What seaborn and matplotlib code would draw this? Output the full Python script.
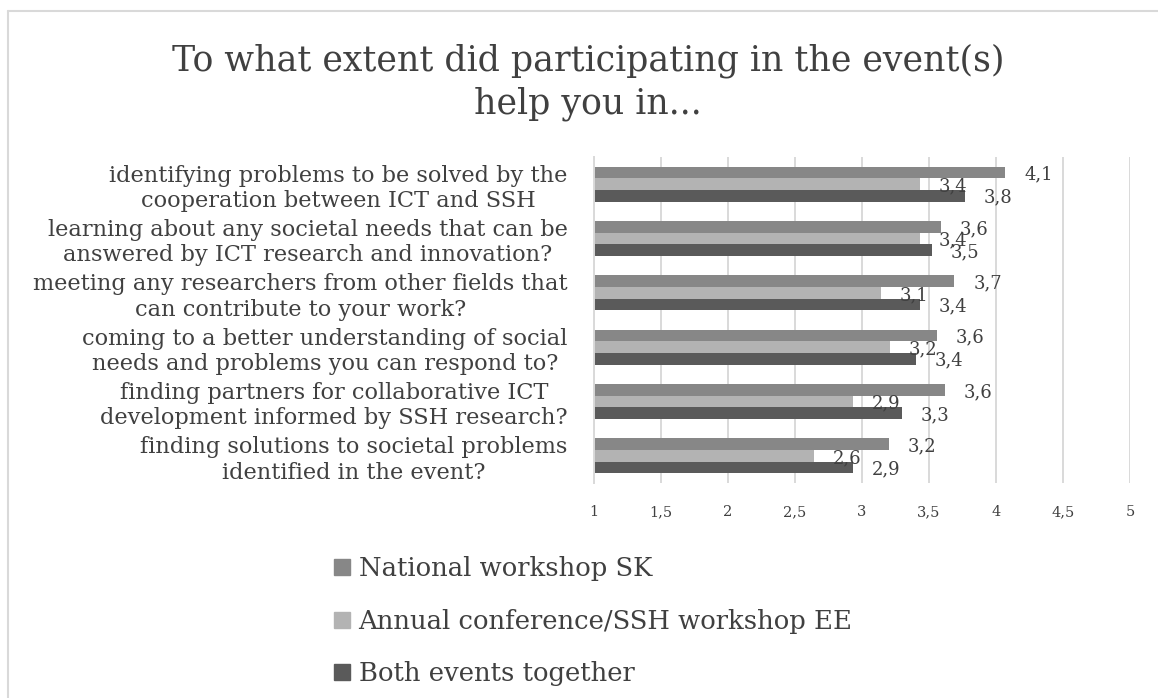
import matplotlib
matplotlib.use("Agg")
import matplotlib.pyplot as plt
from matplotlib.lines import Line2D
import seaborn as sns
import pandas as pd

# ---- data ----
categories = [
    "identifying problems to be solved by the\ncooperation between ICT and SSH",
    "learning about any societal needs that can be\nanswered by ICT research and innovation?",
    "meeting any researchers from other fields that\ncan contribute to your work?",
    "coming to a better understanding of social\nneeds and problems you can respond to?",
    "finding partners for collaborative ICT\ndevelopment informed by SSH research?",
    "finding solutions to societal problems\nidentified in the event?",
]
series_names = ["National workshop SK", "Annual conference/SSH workshop EE", "Both events together"]
national_sk = [4.07, 3.59, 3.69, 3.56, 3.62, 3.20]
annual_ee = [3.43, 3.43, 3.14, 3.21, 2.93, 2.64]
both_events = [3.77, 3.52, 3.43, 3.40, 3.30, 2.93]
x_ticks = [1, 1.5, 2, 2.5, 3, 3.5, 4, 4.5, 5]
title_text = "To what extent did participating in the event(s)\nhelp you in..."

colors = ["#878787", "#b3b3b3", "#5a5a5a"]
text_color = "#404040"
grid_color = "#d9d9d9"

rows = []
for name, vals in zip(series_names, [national_sk, annual_ee, both_events]):
    for c, v in zip(categories, vals):
        rows.append({"category": c, "series": name, "value": v})
df = pd.DataFrame(rows)

sns.set_theme(style="white")
plt.rcParams["font.family"] = ["DejaVu Serif"]
plt.rcParams["text.color"] = text_color

W, H = 1158, 698
fig = plt.figure(figsize=(W / 100, H / 100), dpi=100)
ax = fig.add_axes([594 / W, 1 - 483 / H, (1130 - 594) / W, (483 - 157) / H])

sns.barplot(data=df, x="value", y="category", hue="series", order=categories,
            hue_order=series_names, palette=colors, width=0.64, orient="h",
            linewidth=0, ax=ax, legend=False, saturation=1)

ax.set_xlim(1, 5)
ax.set_xticks(x_ticks)
ax.set_xticklabels([f"{t:g}".replace(".", ",") for t in x_ticks])
ax.set_xlabel("")
ax.set_ylabel("")
ax.tick_params(axis="x", length=0, pad=16, labelsize=10.5, labelcolor=text_color)
ax.tick_params(axis="y", length=0, pad=19, labelsize=16.2, labelcolor=text_color)
for lab in ax.get_yticklabels():
    lab.set_multialignment("center")
    lab.set_linespacing(1.2)

ax.grid(axis="x", color=grid_color, linewidth=1.4)
ax.set_axisbelow(True)
for s in ["top", "right", "bottom"]:
    ax.spines[s].set_visible(False)
ax.spines["left"].set_color(grid_color)
ax.spines["left"].set_linewidth(1.4)

for cont in ax.containers:
    for bar in cont:
        v = bar.get_width()
        ax.annotate(f"{v:.1f}".replace(".", ","),
                    xy=(v, bar.get_y() + bar.get_height() / 2),
                    xytext=(13.5, -1.5), textcoords="offset points",
                    ha="left", va="center", fontsize=13, color=text_color,
                    annotation_clip=False)

# title
fig.text(588 / W, 1 - 82.5 / H, title_text, ha="center", va="center",
         fontsize=25, color=text_color, linespacing=1.3)

# legend
handles = [Line2D([0], [0], marker="s", linestyle="none", markersize=11,
                  markerfacecolor=c, markeredgecolor=c) for c in colors]
fig.legend(handles, series_names, loc="upper left",
           bbox_to_anchor=(334 / W, 1 - 556 / H), frameon=False,
           fontsize=18.6, handlelength=0.65, handletextpad=0.3,
           labelspacing=1.07, borderpad=0, borderaxespad=0,
           labelcolor=text_color)

# outer frame
fig.add_artist(Line2D([8 / W, 1], [1 - 11 / H, 1 - 11 / H], color=grid_color, linewidth=1.5))
fig.add_artist(Line2D([8 / W, 8 / W], [0, 1 - 11 / H], color=grid_color, linewidth=1.5))

fig.savefig("out.png", dpi=100, facecolor="white")
